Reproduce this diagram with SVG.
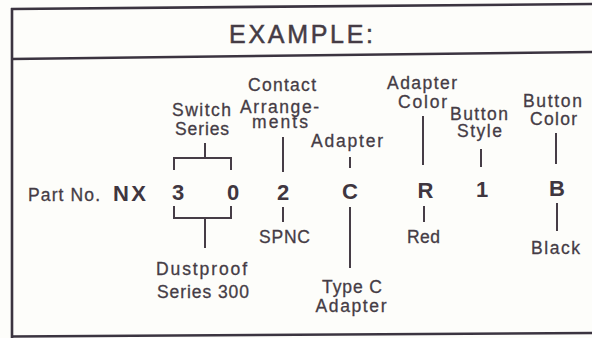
<svg xmlns="http://www.w3.org/2000/svg" width="592" height="338" viewBox="0 0 592 338">
<style>
.t{font-family:"Liberation Sans",Arial,sans-serif;font-size:17.5px;fill:#453c45;stroke:#453c45;stroke-width:0.3;text-anchor:middle}
.b{font-family:"Liberation Sans",Arial,sans-serif;font-size:22px;font-weight:bold;fill:#3f363f;text-anchor:middle}
.ttl{font-family:"Liberation Sans",Arial,sans-serif;font-size:25px;fill:#453c45;stroke:#453c45;stroke-width:0.5}
.frame{stroke:#3b3440;stroke-width:2.6;fill:none}
.c{stroke:#463d46;stroke-width:2;fill:none}
</style>
<rect x="0" y="0" width="592" height="338" fill="#fdfdfa"/>
<g id="frame">
<line class="frame" x1="11" y1="9" x2="592" y2="4"/>
<line class="frame" x1="11" y1="59" x2="592" y2="52"/>
<line class="frame" x1="11" y1="336.5" x2="592" y2="333"/>
<line class="frame" x1="12" y1="8" x2="12" y2="338"/>
</g>
<g id="title"><text class="ttl" x="229" y="43" textLength="144" lengthAdjust="spacing">EXAMPLE:</text></g>
<g id="part-no">
<text class="t" x="28" y="201" style="text-anchor:start" textLength="72" lengthAdjust="spacing">Part No.</text>
<text class="b" x="113" y="201" style="text-anchor:start" textLength="33" lengthAdjust="spacing">NX</text>
</g>
<g id="switch-series">
<text class="t" x="201.5" y="116" textLength="59" lengthAdjust="spacing">Switch</text>
<text class="t" x="202" y="135" textLength="54" lengthAdjust="spacing">Series</text>
</g>
<g id="digit-3"><text class="b" x="178" y="200">3</text></g>
<g id="digit-0"><text class="b" x="233" y="200">0</text></g>
<g id="dustproof">
<text class="t" x="201.5" y="275" textLength="91" lengthAdjust="spacing">Dustproof</text>
<text class="t" x="203" y="298" textLength="92" lengthAdjust="spacing">Series 300</text>
</g>
<g id="contact">
<text class="t" x="282" y="91" textLength="68" lengthAdjust="spacing">Contact</text>
<text class="t" x="279.5" y="112.5" textLength="79" lengthAdjust="spacing">Arrange-</text>
<text class="t" x="280" y="128" textLength="56" lengthAdjust="spacing">ments</text>
</g>
<g id="digit-2"><text class="b" x="283" y="199.5">2</text></g>
<g id="spnc"><text class="t" x="284.5" y="243" textLength="51" lengthAdjust="spacing">SPNC</text></g>
<g id="adapter"><text class="t" x="347" y="147" textLength="72" lengthAdjust="spacing">Adapter</text></g>
<g id="letter-c"><text class="b" x="350" y="199">C</text></g>
<g id="type-c">
<text class="t" x="352" y="293" textLength="60" lengthAdjust="spacing">Type C</text>
<text class="t" x="351" y="312" textLength="71" lengthAdjust="spacing">Adapter</text>
</g>
<g id="adapter-color">
<text class="t" x="422" y="89" textLength="70" lengthAdjust="spacing">Adapter</text>
<text class="t" x="422.5" y="108" textLength="49" lengthAdjust="spacing">Color</text>
</g>
<g id="letter-r"><text class="b" x="425.5" y="197.5">R</text></g>
<g id="red"><text class="t" x="423.5" y="243" textLength="33" lengthAdjust="spacing">Red</text></g>
<g id="button-style">
<text class="t" x="479" y="120" textLength="58" lengthAdjust="spacing">Button</text>
<text class="t" x="479.5" y="137" textLength="45" lengthAdjust="spacing">Style</text>
</g>
<g id="digit-1"><text class="b" x="482" y="197">1</text></g>
<g id="button-color">
<text class="t" x="552.5" y="107" textLength="59" lengthAdjust="spacing">Button</text>
<text class="t" x="553.5" y="125" textLength="47" lengthAdjust="spacing">Color</text>
</g>
<g id="letter-b"><text class="b" x="557" y="196">B</text></g>
<g id="black"><text class="t" x="555.5" y="254" textLength="49" lengthAdjust="spacing">Black</text></g>
<g id="connectors">
<path class="c" d="M205 143V158M174 170V158H231V170"/>
<path class="c" d="M174 206V218H231V206M205 218V248"/>
<line class="c" x1="283" y1="137" x2="283" y2="172"/>
<line class="c" x1="283" y1="207" x2="283" y2="222"/>
<line class="c" x1="350" y1="157" x2="350" y2="168"/>
<line class="c" x1="350" y1="207" x2="350" y2="268"/>
<line class="c" x1="423" y1="116" x2="423" y2="165"/>
<line class="c" x1="424" y1="206" x2="424" y2="222"/>
<line class="c" x1="481" y1="149" x2="481" y2="167"/>
<line class="c" x1="556" y1="133" x2="556" y2="164"/>
<line class="c" x1="557" y1="203" x2="557" y2="231"/>
</g>
</svg>
